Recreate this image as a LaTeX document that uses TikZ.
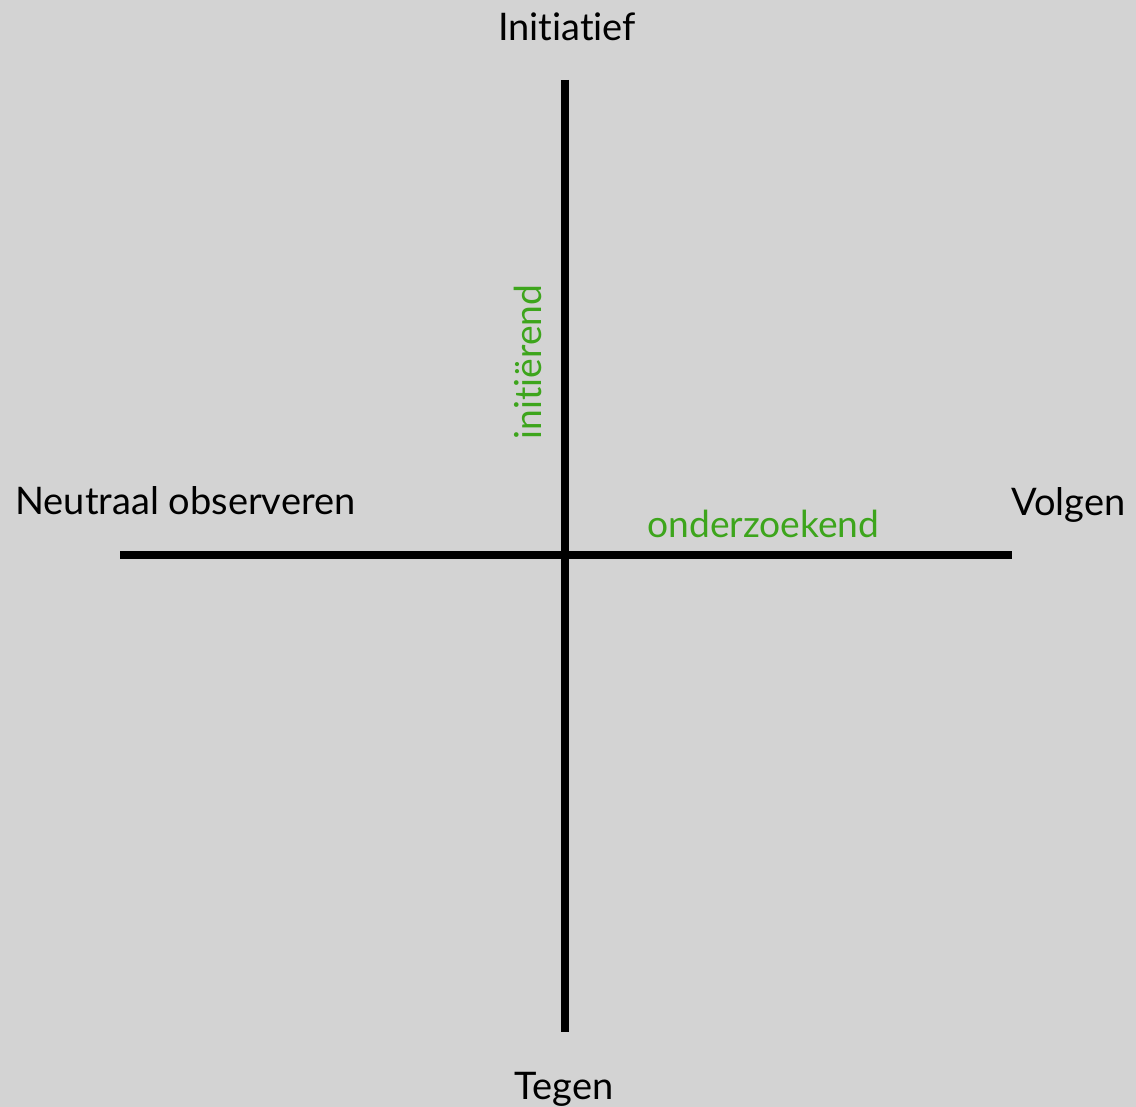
\documentclass[tikz,border=0pt]{standalone}
\usepackage{fontspec}
\setmainfont{Lato}[Ligatures=NoCommon]
\definecolor{canvas}{HTML}{D3D3D3}
\definecolor{ink}{HTML}{000000}
\definecolor{leafgreen}{HTML}{3DA51C}
\usetikzlibrary{positioning}
\tikzset{
  axis/.style={line width=4pt, draw=ink},
  pole/.style={font=\fontsize{19}{21}\selectfont, text=ink, inner sep=0pt, anchor=base},
  mode/.style={font=\fontsize{18.6}{21}\selectfont, text=leafgreen, inner sep=0pt},
}

\begin{document}
\begin{tikzpicture}[x=0.5pt, y=-0.5pt]
    % background and page size
    \fill[canvas] (0,0) rectangle (1136,1107);
    \useasboundingbox (0,0) rectangle (1136,1107);

    % axis end points
    \coordinate (top) at (565,80);
    \coordinate (bottom) at (565,1032);
    \coordinate (west) at (120,555);
    \coordinate (east) at (1012,555);

    \draw[axis] (west) -- (east);
    \draw[axis] (top) -- (bottom);

    % poles
    \node[pole] (init) at (567,41) {Initiatief};
    \node[pole] (tegen) at (564,1099) {Tegen};
    \node[pole, anchor=base west] (neutraal) at (15,514) {Neutraal observeren};
    \node[pole, anchor=base east] (volgen) at (1126,515) {Volgen};

    % green labels
    \node[mode, anchor=base west] (onderz) at (647,537) {onderzoekend};
    \node[mode, rotate=90, anchor=base] (initier) at (541,362) {initiërend};
\end{tikzpicture}
\end{document}
